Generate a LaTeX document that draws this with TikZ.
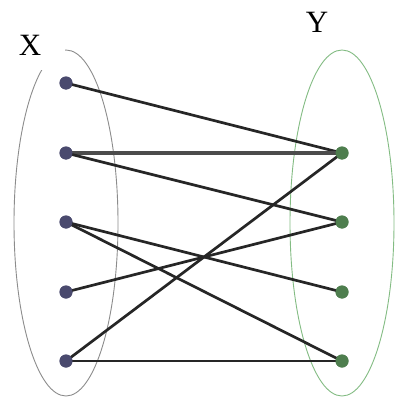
\documentclass[tikz,border=0pt]{standalone}
\usepackage{fontspec}
\setmainfont{Liberation Serif}
\begin{document}
\begin{tikzpicture}[x=1pt,y=-1pt,
  xdot/.style={circle,fill=xcol,inner sep=0pt,minimum size=13pt},
  ydot/.style={circle,fill=ycol,inner sep=0pt,minimum size=13pt},
  edge/.style={line width=2.7pt,draw=black!85},
  lbl/.style={font=\fontsize{31}{31}\selectfont,inner sep=0pt}]
\definecolor{xcol}{HTML}{4A4A6E}
\definecolor{ycol}{HTML}{4E7E4E}
\useasboundingbox[fill=white] (0,0) rectangle (396,404);
\draw[gray!90,line width=0.9pt] (66,223) ellipse [x radius=52,y radius=173];
\draw[green!30!gray!75,line width=0.9pt] (342,223) ellipse [x radius=52,y radius=173];
\fill[white] (13,14) rectangle (65,70);
\node[lbl] (lx) at (30,45) {X};
\node[lbl] (ly) at (317,22) {Y};
\node[xdot] (x1) at (66,83) {};
\node[xdot] (x2) at (66,153) {};
\node[xdot] (x3) at (66,222) {};
\node[xdot] (x4) at (66,292) {};
\node[xdot] (x5) at (66,361) {};
\node[ydot] (y1) at (342,153) {};
\node[ydot] (y2) at (342,222) {};
\node[ydot] (y3) at (342,292) {};
\node[ydot] (y4) at (342,361) {};
\draw[edge] (x1.center) -- (y1.center);
\draw[line width=4pt,draw=black!70] (x2.center) -- (y1.center);
\draw[edge] (x2.center) -- (y2.center);
\draw[edge] (x3.center) -- (y3.center);
\draw[edge] (x3.center) -- (y4.center);
\draw[edge] (x4.center) -- (y2.center);
\draw[edge] (x5.center) -- (y1.center);
\draw[edge] (x5.center) -- (y4.center);
\foreach \n in {x1,x2,x3,x4,x5} \fill[xcol] (\n) circle (6.5);
\foreach \n in {y1,y2,y3,y4} \fill[ycol] (\n) circle (6.5);
\end{tikzpicture}
\end{document}
